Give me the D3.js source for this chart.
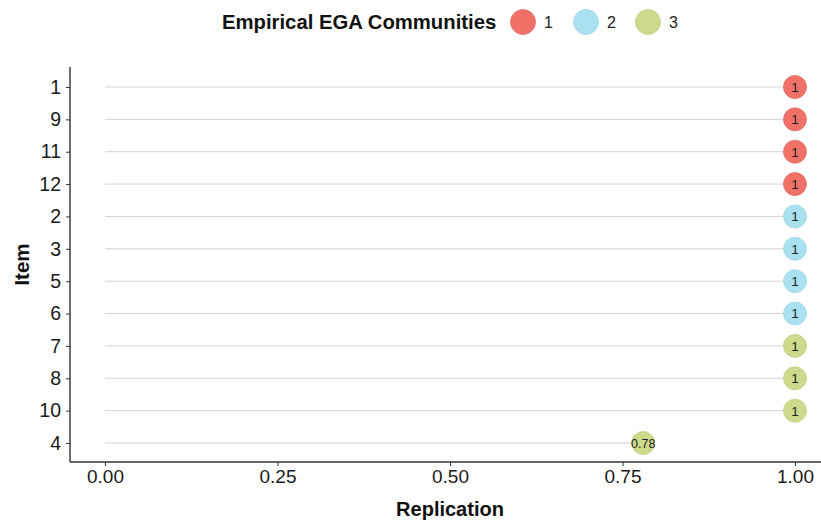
<!DOCTYPE html>
<html>
<head>
<meta charset="utf-8">
<script src="https://cdn.jsdelivr.net/npm/d3@7"></script>
<style>
  body { margin: 0; background: #fff; }
  text { font-family: Arial, "Liberation Sans", sans-serif; }
</style>
</head>
<body>
<svg id="chart" width="821" height="522"></svg>
<script>
// Items in display order (top to bottom), their replication rate and community
const items = ["1", "9", "11", "12", "2", "3", "5", "6", "7", "8", "10", "4"];
const replication = [1, 1, 1, 1, 1, 1, 1, 1, 1, 1, 1, 0.78];
const community = ["1", "1", "1", "1", "2", "2", "2", "2", "3", "3", "3", "3"];
const communityLevels = ["1", "2", "3"];
const communityColors = ["#F07167", "#A9E1F0", "#CDDA8C"];
const xTicks = [0, 0.25, 0.5, 0.75, 1];

const data = items.map((d, i) => ({ item: d, value: replication[i], comm: community[i] }));

const svg = d3.select("#chart");
const panel = { left: 70, right: 830, top: 67, bottom: 462 };

const x = d3.scaleLinear().domain([0, 1]).range([105, 795]);
const y = d3.scalePoint().domain(items).range([87, 443]);
const color = d3.scaleOrdinal().domain(communityLevels).range(communityColors);

// lollipop stems from 0 to the replication value
svg.append("g").selectAll("line").data(data).join("line")
  .attr("x1", x(0)).attr("x2", d => x(d.value))
  .attr("y1", d => y(d.item)).attr("y2", d => y(d.item))
  .attr("stroke", "#d3d3d3").attr("stroke-width", 1);

// axes
const xAxis = svg.append("g")
  .attr("transform", `translate(0,${panel.bottom})`)
  .call(d3.axisBottom(x).tickValues(xTicks).tickFormat(d3.format(".2f")).tickSizeOuter(0).tickSize(4).tickPadding(4));
xAxis.select(".domain").attr("d", `M${panel.left},0H${panel.right}`).attr("stroke", "#333").attr("stroke-width", 1.4);
xAxis.selectAll(".tick line").attr("stroke", "#333");
xAxis.selectAll(".tick text").attr("font-size", 19).attr("fill", "#1a1a1a");

const yAxis = svg.append("g")
  .attr("transform", `translate(${panel.left},0)`)
  .call(d3.axisLeft(y).tickSizeOuter(0).tickSize(4).tickPadding(5));
yAxis.select(".domain").attr("d", `M0,${panel.top}V${panel.bottom}`).attr("stroke", "#333").attr("stroke-width", 1.4);
yAxis.selectAll(".tick line").attr("stroke", "#333");
yAxis.selectAll(".tick text").attr("font-size", 19.5).attr("fill", "#1a1a1a");

// points with value labels
const pts = svg.append("g").selectAll("g").data(data).join("g")
  .attr("transform", d => `translate(${x(d.value)},${y(d.item)})`);
pts.append("circle").attr("r", 11.5)
  .attr("fill", d => color(d.comm))
  .attr("stroke", d => d3.color(color(d.comm)).darker(0.15))
  .attr("stroke-width", 0.8);
pts.append("text")
  .attr("text-anchor", "middle").attr("dy", "0.36em")
  .attr("font-size", d => d.value < 1 ? 12.5 : 13.5)
  .attr("fill", "#222")
  .text(d => d.value === 1 ? "1" : d3.format(".2f")(d.value).replace(/0+$/, ""));

// axis titles
svg.append("text").attr("x", x(0.5)).attr("y", 509).attr("dy", "0.35em")
  .attr("text-anchor", "middle").attr("font-size", 20).attr("font-weight", "bold")
  .attr("fill", "#111").text("Replication");
svg.append("text").attr("transform", `translate(22,${(panel.top + panel.bottom) / 2}) rotate(-90)`)
  .attr("text-anchor", "middle").attr("dy", "0.35em").attr("font-size", 20.5).attr("font-weight", "bold")
  .attr("fill", "#111").text("Item");

// legend
const legend = svg.append("g");
legend.append("text").attr("x", 222).attr("y", 22).attr("dy", "0.35em")
  .attr("font-size", 20.3).attr("font-weight", "bold").attr("fill", "#111")
  .text("Empirical EGA Communities");
const legX = [523, 586, 648];
const lg = legend.selectAll("g.key").data(communityLevels).join("g").attr("class", "key")
  .attr("transform", (d, i) => `translate(${legX[i]},22)`);
lg.append("circle").attr("r", 12.5).attr("fill", d => color(d))
  .attr("stroke", d => d3.color(color(d)).darker(0.15)).attr("stroke-width", 0.8);
lg.append("text").attr("x", 21).attr("dy", "0.36em").attr("font-size", 16).attr("fill", "#222")
  .text(d => d);
</script>
</body>
</html>
